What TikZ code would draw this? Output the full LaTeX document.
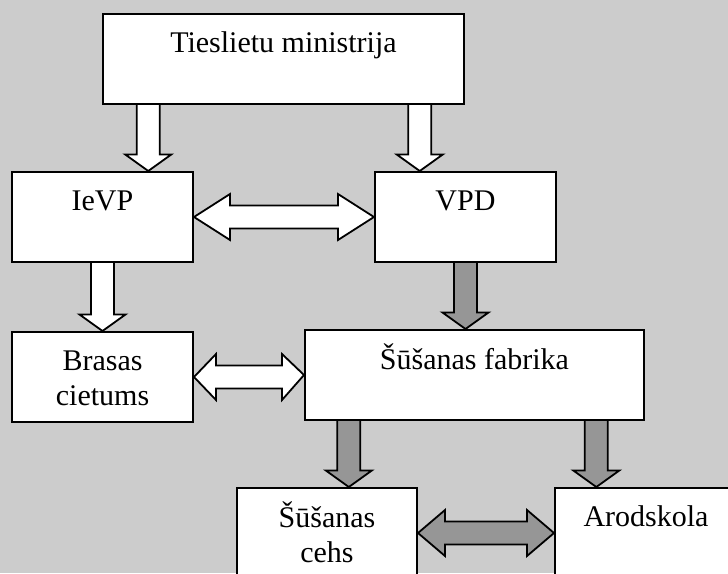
\documentclass[tikz,border=0pt]{standalone}
\usepackage{fontspec}
\setmainfont{Liberation Serif}
\usepackage{tikz}
\usetikzlibrary{positioning,calc}
\definecolor{bgGray}{HTML}{CCCCCC}
\definecolor{arrGray}{HTML}{969696}
\tikzset{
	box/.style={draw, rectangle, fill=white, line width=2pt, minimum width=181pt, minimum height=90pt, inner sep=0pt},
	lbl/.style={anchor=north, yshift=-14.5pt, inner sep=0pt, align=center, font=\fontsize{30}{35}\selectfont},
	blk/.style={draw, line width=1.8pt, line join=miter, miter limit=10}
}
% block arrow downwards: [fill]{from}{tip}
\newcommand{\vArrow}[3][white]{%
	\draw[blk, fill=#1] let \p1=(#2), \p2=(#3) in
	({\x2-11.5pt},{\y1}) -- ({\x2-11.5pt},{\y2+16.5pt}) -- ({\x2-23pt},{\y2+16.5pt}) -- (\p2)
	-- ({\x2+23pt},{\y2+16.5pt}) -- ({\x2+11.5pt},{\y2+16.5pt}) -- ({\x2+11.5pt},{\y1});}
% block arrow both ways: [fill]{head length}{left tip}{right tip}
\newcommand{\hArrow}[4][white]{%
	\draw[blk, fill=#1] let \p1=(#3), \p2=(#4) in
	(\p1) -- ({\x1+#2},{\y1+23pt}) -- ({\x1+#2},{\y1+11.5pt}) -- ({\x2-#2},{\y1+11.5pt}) -- ({\x2-#2},{\y1+23pt}) -- (\p2)
	-- ({\x2-#2},{\y1-23pt}) -- ({\x2-#2},{\y1-11.5pt}) -- ({\x1+#2},{\y1-11.5pt}) -- ({\x1+#2},{\y1-23pt}) -- cycle;}

\begin{document}
\begin{tikzpicture}[x=1pt, y=-1pt]
		\useasboundingbox (0,0) rectangle (728,573);
		\fill[bgGray] (0,0) rectangle (728,573);					% background
		\clip (0,0) rectangle (728,573);
		
		\node[box, minimum width=361pt, label={[lbl]north:\strut Tieslietu ministrija}] (tm) at (283.5,59) {};	% ministry
		\node[box, label={[lbl]north:\strut IeVP}] (ievp) at (102.5,217) {};
		\node[box, right=180pt of ievp, label={[lbl]north:\strut VPD}] (vpd) {};
		\node[box, below=68pt of ievp, label={[lbl]north:\strut Brasas\\\strut cietums}] (brasas) {};	% prison
		\node[box, minimum width=339pt, label={[lbl]north:\strut Šūšanas fabrika}] (fabrika) at (474.5,375) {};
		\node[box, minimum width=180pt, label={[lbl]north:\strut Šūšanas\\\strut cehs}] (cehs) at (327,533) {};
		\node[box, minimum width=182pt, right=136pt of cehs, label={[lbl]north:\strut Arodskola}] (arod) {};	% cut off at the right
		
		% white arrows
		\vArrow{tm.south}{$(ievp.north west)!0.75!(ievp.north east)$}
		\vArrow{tm.south}{$(vpd.north west)!0.25!(vpd.north east)$}
		\vArrow{ievp.south}{brasas.north}
		\hArrow{36pt}{ievp.east}{vpd.west}
		\hArrow{22pt}{brasas.east}{fabrika.west}
		
		% gray arrows
		\vArrow[arrGray]{vpd.south}{vpd.south |- fabrika.north}
		\vArrow[arrGray]{fabrika.south}{$(cehs.north west)!0.62!(cehs.north east)$}
		\vArrow[arrGray]{fabrika.south}{$(arod.north west)!0.23!(arod.north east)$}
		\hArrow[arrGray]{27pt}{cehs.east}{arod.west}
\end{tikzpicture}
\end{document}
